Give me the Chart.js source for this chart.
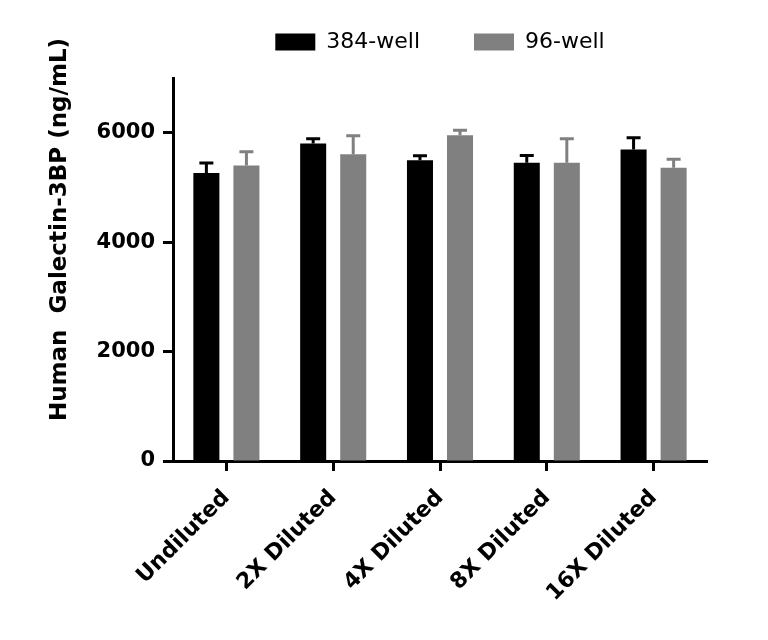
<!DOCTYPE html>
<html>
<head>
<meta charset="utf-8">
<script src="https://cdn.jsdelivr.net/npm/chart.js@4.4.1/dist/chart.umd.min.js"></script>
<style>
  body { margin: 0; background: #fff; }
  #wrap { width: 768px; height: 640px; }
</style>
</head>
<body>
<div id="wrap"><canvas id="bar-chart"></canvas></div>
<script>
const categories = ['Undiluted', '2X Diluted', '4X Diluted', '8X Diluted', '16X Diluted'];
const well384 = [5265, 5805, 5495, 5450, 5695];
const well384Err = [180, 85, 85, 135, 215];
const well96 = [5400, 5605, 5955, 5450, 5360];
const well96Err = [250, 340, 90, 440, 155];
const yTicks = [0, 2000, 4000, 6000];

// one-sided (upper) error bars drawn from the scale
const errorBars = {
    id: 'errorBars',
    afterDatasetsDraw(chart) {
        const ctx = chart.ctx;
        const y = chart.scales.y;
        chart.data.datasets.forEach((ds, i) => {
            const meta = chart.getDatasetMeta(i);
            meta.data.forEach((bar, j) => {
                const top = y.getPixelForValue(ds.data[j] + ds.errors[j]);
                ctx.save();
                ctx.strokeStyle = ds.backgroundColor;
                ctx.lineWidth = 3;
                ctx.beginPath();
                ctx.moveTo(bar.x, bar.y);
                ctx.lineTo(bar.x, top);
                ctx.moveTo(bar.x - 7, top);
                ctx.lineTo(bar.x + 7, top);
                ctx.stroke();
                ctx.restore();
            });
        });
    }
};

// extra room between legend and plot
const legendGap = {
    id: 'legendGap',
    beforeInit(chart) {
        const fit = chart.legend.fit;
        chart.legend.fit = function () {
            fit.bind(chart.legend)();
            this.height += 15;
        };
    }
};

const barChartElement = document.getElementById('bar-chart').getContext('2d');
const barChart = new Chart(barChartElement, {
    type: 'bar',
    data: {
        labels: categories,
        datasets: [{
            label: '384-well',
            data: well384,
            errors: well384Err,
            backgroundColor: 'rgb(0, 0, 0)'
        }, {
            label: '96-well',
            data: well96,
            errors: well96Err,
            backgroundColor: 'rgb(128, 128, 128)'
        }]
    },
    plugins: [errorBars, legendGap],
    options: {
        responsive: true,
        maintainAspectRatio: false,
        animation: false,
        categoryPercentage: 0.75,
        barPercentage: 0.65,
        layout: {
            padding: { top: -23, right: 61, left: 0, bottom: 0 }
        },
        plugins: {
            tooltip: { enabled: false },
            legend: {
                position: 'top',
                fullSize: false,
                labels: {
                    boxWidth: 40,
                    boxHeight: 17,
                    padding: 54,
                    color: '#000',
                    font: { family: 'DejaVu Sans', size: 22 }
                }
            }
        },
        scales: {
            x: {
                afterFit(scale) { scale.height = 179; },
                grid: {
                    offset: false,
                    drawOnChartArea: false,
                    tickLength: 10,
                    tickWidth: 3,
                    tickColor: '#000'
                },
                border: { color: '#000', width: 3 },
                ticks: {
                    minRotation: 45,
                    maxRotation: 45,
                    padding: 14,
                    color: '#000',
                    font: { family: 'DejaVu Sans', size: 22, weight: 'bold' }
                }
            },
            y: {
                min: 0,
                max: 7000,
                afterFit(scale) { scale.width = 173; },
                afterBuildTicks(scale) {
                    scale.ticks = yTicks.map(v => ({ value: v }));
                },
                grid: {
                    drawOnChartArea: false,
                    tickLength: 10,
                    tickWidth: 3,
                    tickColor: '#000'
                },
                border: { color: '#000', width: 3 },
                ticks: {
                    padding: 8,
                    color: '#000',
                    font: { family: 'DejaVu Sans', size: 21, weight: 'bold' },
                    callback: value => String(value)
                },
                title: {
                    display: true,
                    text: '          Human  Galectin-3BP (ng/mL)',
                    color: '#000',
                    padding: { top: 46, bottom: 0 },
                    font: { family: 'DejaVu Sans', size: 23, weight: 'bold' }
                }
            }
        }
    }
});
</script>
</body>
</html>
